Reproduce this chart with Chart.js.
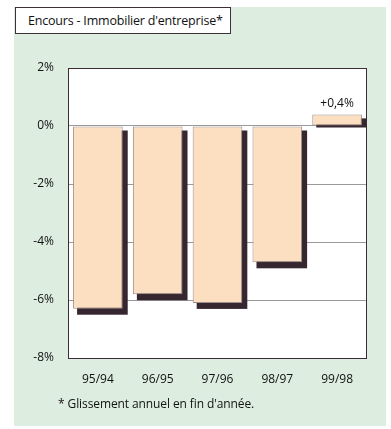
<!DOCTYPE html>
<html>
<head>
<meta charset="utf-8">
<script src="https://cdn.jsdelivr.net/npm/chart.js@4/dist/chart.umd.min.js"></script>
<style>
  html, body { margin: 0; padding: 0; background: #fff; }
  body { width: 391px; height: 429px; position: relative; overflow: hidden; font-family: "Open Sans", "Noto Sans", sans-serif; }
  #panel { position: absolute; left: 14px; top: 7px; width: 372px; height: 419px; background: #ddede0; }
  #title { position: absolute; left: 15px; top: 7px; width: 216px; height: 27px; box-sizing: border-box; border: 1px solid #3a3035; background: #fff; font-size: 12.5px; line-height: 25px; padding-left: 12px; color: #111; white-space: nowrap; letter-spacing: -0.2px; }
  #note { position: absolute; left: 58px; top: 395px; font-size: 12px; color: #111; white-space: nowrap; letter-spacing: -0.1px; }
  #wrap { position: absolute; left: 0; top: 0; width: 391px; height: 429px; }
</style>
</head>
<body>
<div id="panel"></div>
<div id="title">Encours - Immobilier d'entreprise*</div>
<div id="wrap"><canvas id="c" width="391" height="429"></canvas></div>
<div id="note">* Glissement annuel en fin d'année.</div>
<script>
const categories = ['95/94', '96/95', '97/96', '98/97', '99/98'];
const values = [-6.3, -5.8, -6.1, -4.7, 0.4];
const yTicks = [2, 0, -2, -4, -6, -8];

const fmtPct = v => (v > 0 ? '+' : '') + String(v).replace('.', ',') + '%';

const plotPlugin = {
  id: 'plotDeco',
  beforeDraw(chart) {
    const { ctx, chartArea: a } = chart;
    ctx.save();
    ctx.fillStyle = '#ffffff';
    ctx.fillRect(a.left, a.top, a.right - a.left, a.bottom - a.top);
    ctx.restore();
  },
  beforeDatasetsDraw(chart) {
    const { ctx } = chart;
    const meta = chart.getDatasetMeta(0);
    ctx.save();
    ctx.fillStyle = '#35262f';
    meta.data.forEach((bar, i) => {
      const p = bar.getProps(['x', 'y', 'base', 'width'], true);
      const left = p.x - p.width / 2 + 4;
      const top = Math.min(p.y, p.base) + 4;
      const bottom = Math.max(p.y, p.base) + (values[i] < 0 ? 6 : 2);
      ctx.fillRect(left, top, p.width + 1, bottom - top);
    });
    ctx.restore();
  },
  afterDatasetsDraw(chart) {
    const { ctx, chartArea: a } = chart;
    const meta = chart.getDatasetMeta(0);
    ctx.save();
    ctx.fillStyle = '#111';
    ctx.font = '12px "Open Sans", sans-serif';
    ctx.textAlign = 'center';
    ctx.textBaseline = 'bottom';
    meta.data.forEach((bar, i) => {
      const v = values[i];
      if (v > 0) {
        const p = bar.getProps(['x', 'y'], true);
        ctx.fillText(fmtPct(v), p.x, p.y - 5);
      }
    });
    ctx.strokeStyle = '#3a2d35';
    ctx.lineWidth = 1;
    ctx.strokeRect(Math.round(a.left) + 0.5, Math.round(a.top) + 0.5, Math.round(a.right - a.left) - 1, Math.round(a.bottom - a.top));
    ctx.restore();
  }
};

new Chart(document.getElementById('c'), {
  type: 'bar',
  data: {
    labels: categories,
    datasets: [{
      data: values,
      backgroundColor: '#fcdfc0',
      borderColor: '#9c8e8e',
      borderWidth: 1,
      borderSkipped: false,
      categoryPercentage: 1,
      barPercentage: 0.83
    }]
  },
  options: {
    responsive: false,
    animation: false,
    devicePixelRatio: 1,
    layout: { padding: { left: 0, right: 24, top: 68, bottom: 41 } },
    plugins: { legend: { display: false }, tooltip: { enabled: false }, title: { display: false } },
    scales: {
      x: {
        grid: { display: false, drawTicks: false },
        border: { display: false },
        ticks: { color: '#111', font: { family: '"Open Sans", sans-serif', size: 12 }, padding: 14, maxRotation: 0 },
        afterFit(s) { s.height = 30; }
      },
      y: {
        min: -8, max: 2,
        afterBuildTicks(s) { s.ticks = yTicks.map(v => ({ value: v })); },
        grid: { color: '#9a9a9a', lineWidth: 1, drawTicks: false },
        border: { display: false },
        ticks: { color: '#111', font: { family: '"Open Sans", sans-serif', size: 12 }, padding: 14, callback: v => v + '%' },
        afterFit(s) { s.width = 68; }
      }
    }
  },
  plugins: [plotPlugin]
});
</script>
</body>
</html>
